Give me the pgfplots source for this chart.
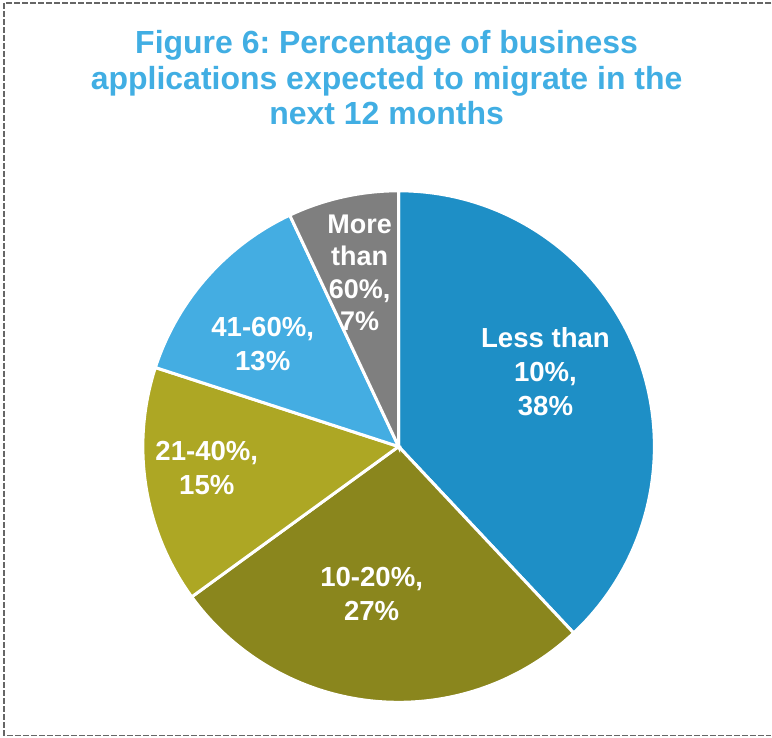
\documentclass[border=0pt]{standalone}
\usepackage{pgfplots}
\usepackage{pgfplotstable}
\pgfplotsset{compat=1.18}
\usepackage{fontspec}
\setmainfont{Liberation Sans}
\frenchspacing
\definecolor{ctitle}{HTML}{41AEE3}
\definecolor{cA}{HTML}{1E8FC6}
\definecolor{cB}{HTML}{8A861D}
\definecolor{cC}{HTML}{ADA724}
\definecolor{cD}{HTML}{44ADE2}
\definecolor{cE}{HTML}{7F7F7F}
\pgfplotstableread{
share
38
27
15
13
7
}\piedata
\begin{document}
\begin{tikzpicture}
\pgfplotstablegetelem{0}{share}\of\piedata\let\sA\pgfplotsretval
\pgfplotstablegetelem{1}{share}\of\piedata\let\sB\pgfplotsretval
\pgfplotstablegetelem{2}{share}\of\piedata\let\sC\pgfplotsretval
\pgfplotstablegetelem{3}{share}\of\piedata\let\sD\pgfplotsretval
\pgfplotstablegetelem{4}{share}\of\piedata\let\sE\pgfplotsretval
\pgfmathsetmacro{\aO}{90}
\pgfmathsetmacro{\aA}{\aO-3.6*\sA}
\pgfmathsetmacro{\aB}{\aA-3.6*\sB}
\pgfmathsetmacro{\aC}{\aB-3.6*\sC}
\pgfmathsetmacro{\aD}{\aC-3.6*\sD}
\pgfmathsetmacro{\aE}{\aD-3.6*\sE}
\begin{axis}[x=0.5pt,y=0.5pt,xmin=0,xmax=772,ymin=0,ymax=738,
  hide axis, clip=false]
\path (axis cs:0,0) rectangle (axis cs:772,738);
% border
\draw[gray!80!black, line width=0.75pt, dash pattern=on 3pt off 1pt]
  (axis cs:772,735) -- (axis cs:4,735) -- (axis cs:4,2) -- (axis cs:772,2);
% slices
\def\cx{399}\def\cy{291}\def\r{256}
\fill[cA,draw=white,line width=1.5pt] (axis cs:\cx,\cy) -- (axis cs:{\cx+\r*cos(\aO)},{\cy+\r*sin(\aO)}) arc[start angle=\aO,end angle=\aA,radius=128pt] -- cycle;
\fill[cB,draw=white,line width=1.5pt] (axis cs:\cx,\cy) -- (axis cs:{\cx+\r*cos(\aA)},{\cy+\r*sin(\aA)}) arc[start angle=\aA,end angle=\aB,radius=128pt] -- cycle;
\fill[cC,draw=white,line width=1.5pt] (axis cs:\cx,\cy) -- (axis cs:{\cx+\r*cos(\aB)},{\cy+\r*sin(\aB)}) arc[start angle=\aB,end angle=\aC,radius=128pt] -- cycle;
\fill[cD,draw=white,line width=1.5pt] (axis cs:\cx,\cy) -- (axis cs:{\cx+\r*cos(\aC)},{\cy+\r*sin(\aC)}) arc[start angle=\aC,end angle=\aD,radius=128pt] -- cycle;
\fill[cE,draw=white,line width=1.5pt] (axis cs:\cx,\cy) -- (axis cs:{\cx+\r*cos(\aD)},{\cy+\r*sin(\aD)}) arc[start angle=\aD,end angle=\aE,radius=128pt] -- cycle;
% title
\node[ctitle, align=center, font=\bfseries\fontsize{16}{17.75}\selectfont] at (axis cs:387,660)
  {Figure 6: Percentage of business\\applications expected to migrate in the\\next 12 months};
% labels
\tikzset{lab/.style={white, align=center, font=\bfseries\fontsize{13.8}{17}\selectfont}}
\node[lab] at (axis cs:546,366) {Less than\\10\%,\\38\%};
\node[lab] at (axis cs:372,143) {10-20\%,\\27\%};
\node[lab] at (axis cs:207,270) {21-40\%,\\15\%};
\node[lab] at (axis cs:263,394) {41-60\%,\\13\%};
\node[lab, font=\bfseries\fontsize{13.5}{16.2}\selectfont] at (axis cs:360,465) {More\\than\\60\%,\\7\%};
\end{axis}
\end{tikzpicture}
\end{document}
